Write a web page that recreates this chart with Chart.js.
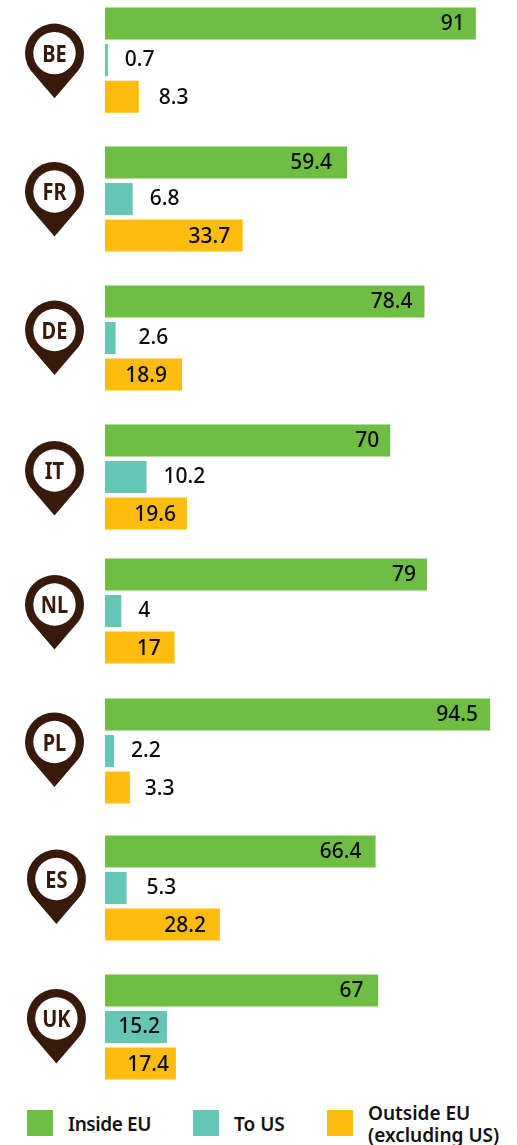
<!DOCTYPE html>
<html><head><meta charset="utf-8">
<style>
html,body{margin:0;padding:0;background:#fff}
#wrap{position:relative;width:517px;height:1145px;overflow:hidden}
#wrap canvas{position:absolute;left:0;top:-9px}
.lg{position:absolute;font:600 19px/22px "Noto Sans",sans-serif;color:#111}
.sw{position:absolute;width:26px;height:26px;top:1110px}
</style>
<script src="https://cdn.jsdelivr.net/npm/chart.js@4"></script>
</head><body>
<div id="wrap"><canvas id="c" width="517" height="1106"></canvas>
<div class="sw" style="left:27px;background:#6fbe44"></div><div class="lg" style="left:68px;top:1113px;letter-spacing:-.4px">Inside EU</div>
<div class="sw" style="left:193px;background:#65c6b5"></div><div class="lg" style="left:234px;top:1113px">To US</div>
<div class="sw" style="left:327px;background:#febc0e"></div><div class="lg" style="left:368px;top:1102px">Outside EU<br>(excluding US)</div>
</div>
<script>
const countries=['BE','FR','DE','IT','NL','PL','ES','UK'];
const insideEU=[91,59.4,78.4,70,79,94.5,66.4,67];
const toUS=[0.7,6.8,2.6,10.2,4,2.2,5.3,15.2];
const outsideEU=[8.3,33.7,18.9,19.6,17,3.3,28.2,17.4];
/* the printed labels above; bar lengths as drawn in the picture (PL and IT are drawn longer than labelled) */
const outsideEUBars=[8.3,33.8,18.9,20.1,17.1,6.1,28.2,17.4];
const seriesColors=['#6fbe44','#65c6b5','#febc0e'];
/* layout tweaks: px, relative to what the scales give */
const groupNudge=[0,0.6,1.4,2.1,-2.1,-0.4,-1.6,-0.9];
const pinX=[54.5,54.5,54.5,54.5,54.5,54.5,56.4,56.4];
const pinDy=[-7,-7.5,-8,-6.5,-6.5,-9,-9,-8.5];
/* label gap from bar end: positive = outside, negative = inside (right aligned) */
const labelGaps=[
 [-11,-15,-12,-11,-11,-12,-14,-14.5],
 [17,17,23,17,17,17,20,-7],
 [20,-12.5,-15,-11,-14,15,-14,-7]];
const labelDy=[0.8,0,1.3];
const labelTexts=[insideEU,toUS,outsideEU];
const PIN='#381a0c';
const nudgePlugin={id:'nudge',afterDatasetsUpdate(chart){
  chart.data.datasets.forEach((d,di)=>chart.getDatasetMeta(di).data.forEach((el,i)=>{el.y+=groupNudge[i];}));
}};
const labelPlugin={id:'labels',afterDatasetsDraw(chart){
  const ctx=chart.ctx;ctx.save();ctx.font='500 21px "Noto Sans",sans-serif';ctx.fillStyle='#0a0a0a';ctx.textBaseline='middle';
  chart.data.datasets.forEach((d,di)=>chart.getDatasetMeta(di).data.forEach((el,i)=>{
    const g=labelGaps[di][i],t=String(labelTexts[di][i]);
    ctx.textAlign=g<0?'right':'left';
    ctx.fillText(t,el.x+g,el.y+labelDy[di]);
  }));ctx.restore();
  const m=chart.getDatasetMeta(1).data;
  ctx.save();
  countries.forEach((c,i)=>{
    const cx=pinX[i],cy=m[i].y+pinDy[i],R=29.5;
    ctx.fillStyle=PIN;ctx.beginPath();
    ctx.arc(cx,cy,R,Math.PI*0.81,Math.PI*0.19,false);
    ctx.lineTo(cx,cy+R+15.5);ctx.closePath();ctx.fill();
    ctx.fillStyle='#fff';ctx.beginPath();ctx.arc(cx,cy,21.2,0,Math.PI*2);ctx.fill();
    ctx.fillStyle=PIN;ctx.font='700 23.5px "Noto Sans",sans-serif';ctx.textAlign='center';ctx.textBaseline='middle';
    ctx.save();ctx.translate(cx,cy+2);ctx.scale(0.85,1);ctx.fillText(c,0,0);ctx.restore();
  });
  ctx.restore();
}};
new Chart(document.getElementById('c'),{type:'bar',
 data:{labels:countries,datasets:[
  {label:'Inside EU',data:insideEU,backgroundColor:seriesColors[0]},
  {label:'To US',data:toUS,backgroundColor:seriesColors[1]},
  {label:'Outside EU (excluding US)',data:outsideEUBars,backgroundColor:seriesColors[2]}]},
 options:{indexAxis:'y',responsive:false,animation:false,
  layout:{padding:{left:105,right:4.5,top:0,bottom:0}},
  plugins:{legend:{display:false},tooltip:{enabled:false}},
  datasets:{bar:{categoryPercentage:0.7923,barPercentage:0.8767}},
  scales:{
   x:{display:false,min:0,max:100},
   y:{display:false}
  }},
 plugins:[nudgePlugin,labelPlugin]});
</script>
</body></html>
